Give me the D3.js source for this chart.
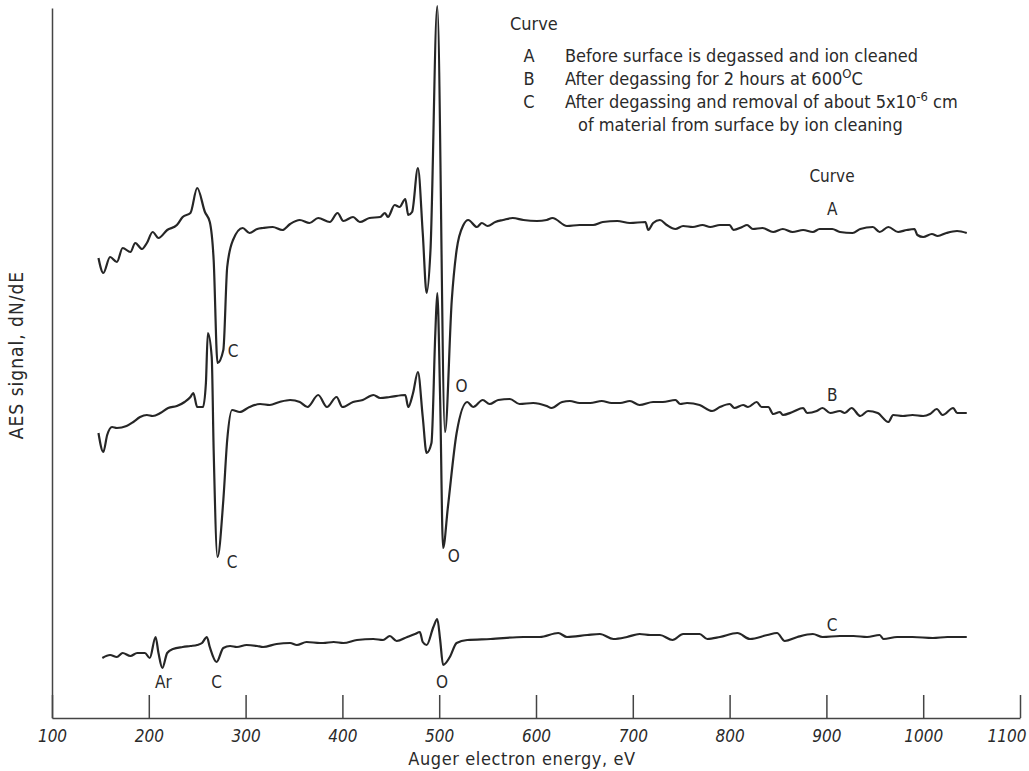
<!DOCTYPE html>
<html>
<head>
<meta charset="utf-8">
<script src="https://cdnjs.cloudflare.com/ajax/libs/d3/7.8.5/d3.min.js"></script>
<style>
  body { margin: 0; background: #fff; }
  text { fill: #2a2a2a; font-family: "DejaVu Sans Condensed", "Liberation Sans Narrow", sans-serif; }
</style>
</head>
<body>
<div id="chart"></div>
<script>
// AES spectra: [energy eV, dN/dE signal (arbitrary units)]
const curveA = [
  [148,45.4],[153,43.9],[160,45.5],[167,45.0],[173,46.4],[181,46.0],[186,46.9],[193,46.3],
  [198,46.9],[204,48.0],[210,47.4],[219,48.2],[229,48.7],[235,49.5],[243,49.9],[250,52.4],
  [258,50.0],[263,49.0],[267,45.2],[271,34.9],[277,36.2],[281,44.5],[287,47.2],[297,48.4],
  [304,47.9],[312,48.3],[318,48.4],[328,48.5],[338,48.2],[346,48.8],[356,49.2],[366,48.9],
  [375,49.4],[387,49.0],[395,49.9],[401,49.1],[411,49.5],[418,49.0],[428,49.4],[439,49.5],
  [444,49.9],[447,49.5],[454,50.7],[459,50.5],[465,51.3],[468,49.7],[472,50.0],[478,54.4],
  [483,47.9],[487,41.9],[491,46.2],[498,70.6],[506,28.0],[513,41.2],[518,46.2],[525,48.7],
  [530,49.2],[539,48.5],[544,48.9],[550,48.6],[558,49.0],[566,49.2],[576,49.4],[587,49.2],
  [601,49.1],[611,49.2],[617,49.4],[632,48.6],[645,48.7],[659,48.7],[669,49.0],[684,49.1],
  [697,48.9],[713,49.0],[716,48.2],[721,48.9],[728,49.2],[735,48.7],[744,48.3],[752,48.6],
  [762,48.5],[772,48.7],[780,48.5],[790,48.7],[800,48.7],[804,48.2],[813,48.5],[818,48.7],
  [824,48.3],[834,48.4],[845,48.0],[855,48.3],[865,48.0],[876,48.2],[886,48.0],[893,48.3],
  [906,48.3],[914,48.0],[927,47.9],[935,48.3],[948,48.5],[955,48.0],[964,48.5],[974,48.0],
  [983,48.2],[991,48.3],[994,47.7],[1000,47.5],[1009,47.8],[1015,47.6],[1024,47.9],[1035,48.1],
  [1045,47.9]
];

const curveB = [
  [148,27.9],[153,26.0],[157,27.7],[162,28.5],[167,28.4],[177,28.6],[184,29.0],[191,29.5],
  [198,29.7],[204,29.6],[212,29.9],[220,30.4],[229,30.6],[237,31.0],[243,31.5],[246,31.9],
  [250,30.5],[256,30.5],[259,32.9],[261,37.9],[265,35.5],[267,26.2],[271,15.5],[277,21.2],
  [281,27.2],[286,30.2],[294,30.0],[304,30.5],[315,30.8],[325,30.7],[335,31.0],[346,31.2],
  [356,31.0],[364,30.5],[375,31.7],[384,30.5],[394,31.5],[400,30.5],[411,31.0],[421,31.2],
  [432,31.7],[439,31.4],[449,31.5],[465,31.7],[468,30.5],[473,31.9],[478,34.0],[483,29.5],
  [487,25.9],[492,26.9],[496,37.9],[498,41.9],[501,31.2],[504,16.4],[509,20.5],[518,27.9],
  [529,31.0],[535,30.5],[545,31.2],[552,30.8],[561,31.2],[573,31.3],[583,30.8],[597,30.9],
  [611,30.6],[616,30.4],[627,31.0],[635,31.1],[645,30.9],[656,30.9],[668,31.1],[678,30.9],
  [687,30.9],[697,31.1],[707,30.7],[721,31.0],[731,31.0],[744,31.2],[749,30.8],[756,30.9],
  [769,30.7],[782,30.1],[790,30.5],[800,30.8],[805,30.4],[814,30.7],[819,30.5],[828,31.0],
  [833,30.5],[840,30.5],[845,29.8],[852,30.0],[855,29.7],[865,30.0],[876,30.4],[880,29.9],
  [890,30.1],[896,30.4],[904,29.9],[914,30.1],[919,29.9],[926,30.4],[935,29.6],[943,30.1],
  [953,29.9],[964,29.0],[969,29.7],[979,29.6],[989,29.7],[1000,29.6],[1007,29.8],[1014,30.3],
  [1020,29.7],[1031,30.4],[1035,29.9],[1045,29.9]
];

const curveC = [
  [152,5.4],[160,5.7],[167,5.5],[173,5.9],[181,5.6],[188,5.9],[196,5.9],[201,5.4],
  [207,7.5],[210,5.9],[214,4.4],[219,5.9],[225,6.3],[235,6.5],[243,6.6],[250,6.7],
  [255,6.9],[260,7.5],[263,6.5],[270,5.0],[277,6.4],[284,6.6],[291,6.5],[301,6.7],
  [312,6.6],[318,6.5],[332,6.8],[346,6.9],[353,6.7],[363,7.0],[377,6.9],[380,6.9],
  [391,7.0],[401,6.9],[415,7.2],[432,7.3],[442,7.2],[449,7.6],[456,7.1],[467,7.5],
  [475,7.8],[480,8.0],[483,7.0],[487,6.7],[494,8.5],[498,9.3],[501,7.2],[504,4.7],
  [511,5.5],[518,6.9],[529,7.2],[553,7.3],[587,7.5],[604,7.5],[623,7.9],[632,7.5],
  [653,7.7],[666,7.8],[680,7.3],[694,7.5],[707,7.8],[718,7.7],[728,7.7],[741,7.2],
  [752,7.8],[769,7.8],[777,7.3],[790,7.5],[808,7.9],[821,7.3],[839,7.7],[849,7.9],
  [857,7.1],[870,7.5],[886,7.8],[896,7.5],[914,7.6],[928,7.6],[942,7.5],[955,7.7],
  [959,7.3],[973,7.5],[989,7.5],[1010,7.4],[1025,7.5],[1045,7.5]
];

const xTicks = [100, 200, 300, 400, 500, 600, 700, 800, 900, 1000, 1100];

// peak labels: [energy eV, signal, text]
const peakLabels = [
  [287, 35.5, 'C'], [286, 14.4, 'C'],
  [523, 32.0, 'O'], [515, 15.0, 'O'],
  [215, 2.4, 'Ar'], [270, 2.4, 'C'], [503, 2.4, 'O']
];
const curveNames = [[906, 49.7, 'A'], [906, 31.1, 'B'], [906, 8.1, 'C']];

const W = 1029, H = 771;
const svg = d3.select('#chart').append('svg')
    .attr('width', W)
    .attr('height', H);

const x = d3.scaleLinear().domain([100, 1100]).range([52, 1020]);
const y = d3.scaleLinear().domain([-0.6, 70.4]).range([718, 8]);

const line = d3.line()
    .x(d => x(d[0]))
    .y(d => y(d[1]))
    .curve(d3.curveMonotoneX);

// axes
const xAxis = svg.append('g')
    .attr('transform', `translate(0,${y(-0.6)})`)
    .call(d3.axisBottom(x).tickValues(xTicks).tickFormat(d3.format('d'))
        .tickSize(-23).tickSizeOuter(0).tickPadding(12));
xAxis.selectAll('text')
    .style('font-size', '17px')
    .style('font-style', 'oblique');
xAxis.selectAll('.tick:last-of-type text')
    .attr('text-anchor', 'end')
    .attr('x', 6);
xAxis.selectAll('line, path').attr('stroke', '#444').attr('stroke-width', 1.5);

const yAxis = svg.append('g')
    .attr('transform', `translate(${x(100)},0)`)
    .call(d3.axisLeft(y).tickValues([]).tickSizeOuter(0));
yAxis.select('path').attr('stroke', '#444').attr('stroke-width', 1.5);

svg.append('text')
    .attr('x', 522)
    .attr('y', 765)
    .attr('text-anchor', 'middle')
    .style('font-size', '18px')
    .style('letter-spacing', '0.6px')
    .text('Auger electron energy, eV');

svg.append('text')
    .attr('transform', 'translate(23,355) rotate(-90)')
    .attr('text-anchor', 'middle')
    .style('font-size', '19px')
    .style('letter-spacing', '1px')
    .text('AES signal, dN/dE');

// curves
[curveA, curveB, curveC].forEach(data => {
    svg.append('path')
        .datum(data)
        .attr('d', line)
        .attr('fill', 'none')
        .attr('stroke', '#262626')
        .attr('stroke-width', 2.2)
        .attr('stroke-linejoin', 'round');
});

svg.selectAll('.peak')
    .data(peakLabels)
    .join('text')
    .attr('class', 'peak')
    .attr('x', d => x(d[0]))
    .attr('y', d => y(d[1]))
    .attr('text-anchor', 'middle')
    .style('font-size', '17px')
    .text(d => d[2]);

svg.append('text')
    .attr('x', 832)
    .attr('y', 182)
    .attr('text-anchor', 'middle')
    .style('font-size', '17px')
    .text('Curve');

svg.selectAll('.cname')
    .data(curveNames)
    .join('text')
    .attr('class', 'cname')
    .attr('x', d => x(d[0]))
    .attr('y', d => y(d[1]))
    .attr('text-anchor', 'middle')
    .style('font-size', '17px')
    .text(d => d[2]);

// legend
const legend = svg.append('g').style('font-size', '18px');
legend.append('text').attr('x', 510).attr('y', 30).text('Curve');

const legendRows = [
    {key: 'A', y: 62},
    {key: 'B', y: 85},
    {key: 'C', y: 108}
];
legendRows.forEach(r => {
    legend.append('text').attr('x', 529).attr('y', r.y)
        .attr('text-anchor', 'middle').text(r.key);
});

legend.append('text').attr('x', 565).attr('y', 62)
    .text('Before surface is degassed and ion cleaned');

const lb = legend.append('text').attr('x', 565).attr('y', 85);
lb.append('tspan').text('After degassing for 2 hours at 600');
lb.append('tspan').attr('dy', -7).style('font-size', '13px').text('O');
lb.append('tspan').attr('dy', 7).text('C');

const lc = legend.append('text').attr('x', 565).attr('y', 108);
lc.append('tspan').text('After degassing and removal of about 5x10');
lc.append('tspan').attr('dy', -7).style('font-size', '13px').text('-6');
lc.append('tspan').attr('dy', 7).text(' cm');

legend.append('text').attr('x', 578).attr('y', 131)
    .text('of material from surface by ion cleaning');
</script>
</body>
</html>
